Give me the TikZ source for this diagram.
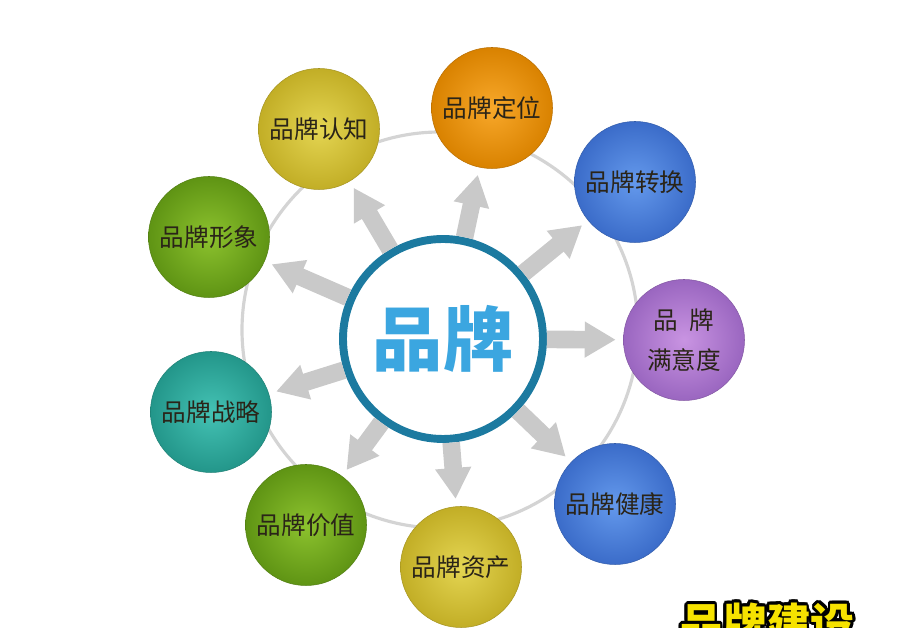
\documentclass[tikz,border=0pt]{standalone}
\usepackage{fontspec}
\setmainfont{Noto Sans CJK SC}
\usepackage{contour}
\usetikzlibrary{arrows.meta}

\definecolor{hubblue}{HTML}{1C7AA0}
\definecolor{hubtext}{HTML}{3BA6E0}
\definecolor{ringgray}{HTML}{D4D4D4}
\definecolor{arrowgray}{HTML}{C9C9C9}
\definecolor{labelink}{HTML}{2A2418}
\definecolor{titleyellow}{HTML}{F6E200}
% ball colours: centre / rim
\definecolor{goldin}{HTML}{E4D552}
\definecolor{goldout}{HTML}{C2AE26}
\definecolor{limein}{HTML}{8CC22E}
\definecolor{limeout}{HTML}{5F9414}
\definecolor{ambin}{HTML}{F8A82A}
\definecolor{ambout}{HTML}{D98200}
\definecolor{skyin}{HTML}{6499EC}
\definecolor{skyout}{HTML}{3B6CC9}
\definecolor{violin}{HTML}{C994E2}
\definecolor{violout}{HTML}{9A66C0}
\definecolor{tealin}{HTML}{44C2B4}
\definecolor{tealout}{HTML}{23968A}

\begin{document}
\begin{tikzpicture}
\tikzstyle{ball}=[circle,minimum size=2.42cm,inner sep=0pt,shading=radial,inner color=#1in,outer color=#1out,draw=#1out!85!black,line width=0.3pt,text=labelink,font=\fontsize{14}{18}\selectfont,align=center]
\tikzstyle{hub}=[circle,minimum size=4cm,inner sep=0pt,fill=white,draw=hubblue,line width=4.5pt,text=hubtext,font=\bfseries\fontsize{40}{48}\selectfont]
\tikzstyle{flow}=[draw=arrowgray,line width=10pt,-{Triangle[length=0.62cm,width=0.68cm]},shorten >=0.15cm]

\useasboundingbox (0,0) rectangle (18,12.56);
\clip (0,0) rectangle (18,12.56);

% big gray ring behind the balls
\draw[ringgray,line width=1.8pt] (8.8,5.96) circle (3.96);

\node[hub](hub) at (8.86,5.78) {品牌};

\node[ball=gold](renzhi) at (6.38,9.98) {品牌认知};
\node[ball=lime](xingxiang) at (4.18,7.82) {品牌形象};
\node[ball=amb](dingwei) at (9.84,10.40) {品牌定位};
\node[ball=sky](zhuanhuan) at (12.70,8.92) {品牌转换};
\node[ball=viol](manyi) at (13.68,5.76) {品\hspace{0.45em}牌\\[5pt]满意度};
\node[ball=sky](jiankang) at (12.30,2.48) {品牌健康};
\node[ball=gold](zichan) at (9.22,1.22) {品牌资产};
\node[ball=lime](jiazhi) at (6.12,2.06) {品牌价值};
\node[ball=teal](zhanlue) at (4.22,4.32) {品牌战略};

\draw[flow] (hub) -- (renzhi);
\draw[flow] (hub) -- (xingxiang);
\draw[flow] (hub) -- (dingwei);
\draw[flow] (hub) -- (zhuanhuan);
\draw[flow] (hub) -- (manyi);
\draw[flow] (hub) -- (jiankang);
\draw[flow] (hub) -- (zichan);
\draw[flow] (hub) -- (jiazhi);
\draw[flow] (hub) -- (zhanlue);

% caption, cut by the lower edge
\node[inner sep=0pt,text=titleyellow,font=\bfseries\fontsize{25}{30}\selectfont](jianshe) at (15.34,0.06) {\contourlength{1.6pt}\contour{black}{品牌建设}};
\end{tikzpicture}
\end{document}
